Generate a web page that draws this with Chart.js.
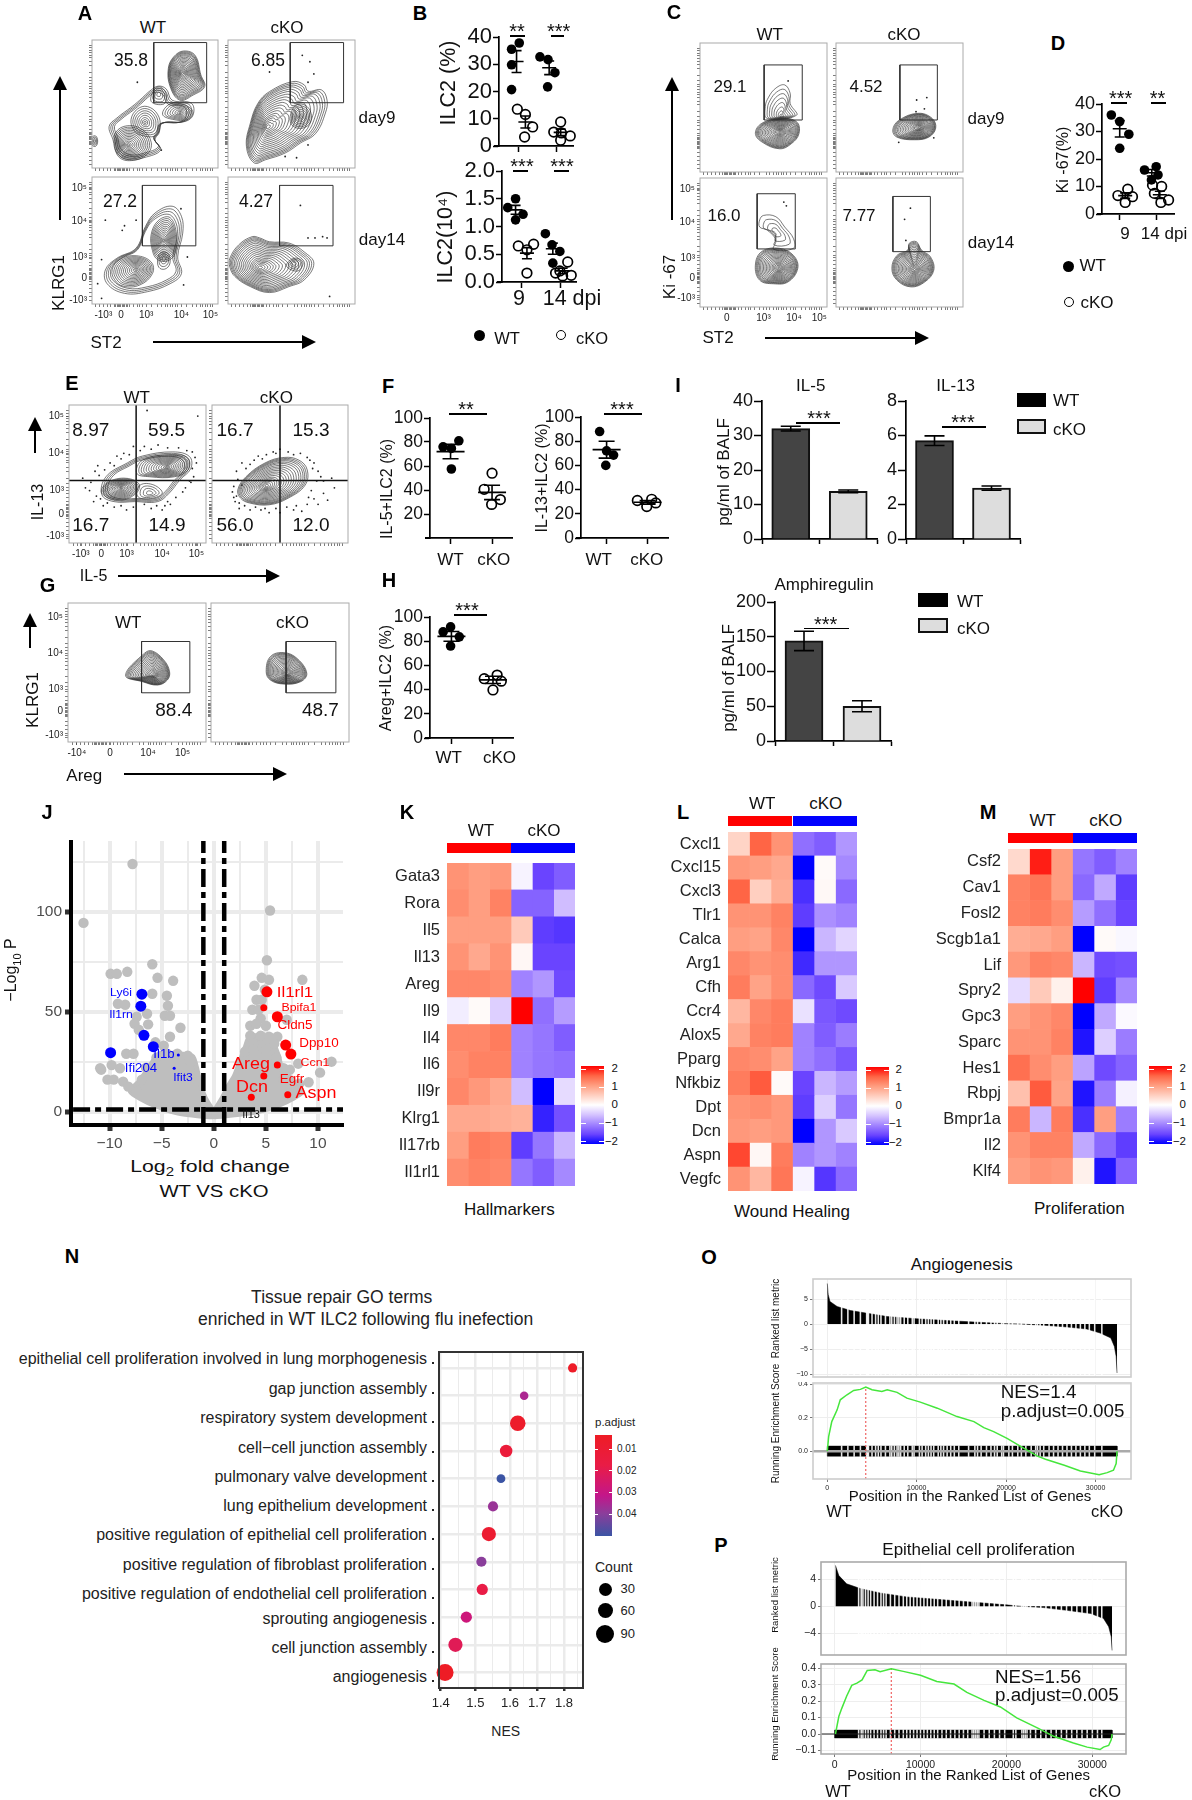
<!DOCTYPE html>
<html>
<head>
<meta charset="utf-8">
<title>ILC2 figure</title>
<script src="https://cdn.jsdelivr.net/npm/chart.js@4/dist/chart.umd.js"></script>
<style>
  html, body { margin: 0; background: #fff; }
  #fig { position: relative; width: 1192px; height: 1800px; overflow: hidden; font-family: "Liberation Sans", Arial, sans-serif; color: #111; }
  #fig canvas { position: absolute; }
  .t { position: absolute; white-space: nowrap; line-height: 1; z-index: 5; }
  .r { position: absolute; z-index: 4; }
</style>
</head>
<body>
<div id="fig"></div>
<script>
// --- Data: flow plots (axis units are percent of the axis) ---
const RINGS_OUTER = [1, .95, .9, .85];
const RINGS_S = [1, .75, .5, .25];
const RINGS_M = [1, .86, .72, .58, .44, .3, .18, .08];
const RINGS_L = [1, .92, .84, .76, .68, .6, .52, .44, .36, .28, .2, .12, .06];
const RINGS_XL = [1, .96, .92, .88, .83, .78, .72, .66, .6, .54, .48, .42, .36, .3, .25, .2, .15, .1, .05];

const FLOW_MINOR = [3, 6, 9, 12, 15, 18, 19, 20, 21, 22, 23, 24, 25, 26, 27, 28, 30, 33, 36, 38, 40, 43, 47, 52, 55, 58, 60, 62, 64, 66, 68, 71, 75, 80, 83, 86, 88, 90, 92, 94, 96];
const LOG_TEXT = ['-10³', '0', '10³', '10⁴', '10⁵'];
const A_X_POS = [9, 23, 43, 71, 94];
const A_Y_POS = [3, 20, 37, 65, 91];
const C_X_POS = [21, 50, 74, 94];
const C_X_TEXT = ['0', '10³', '10⁴', '10⁵'];
const C_Y_POS = [7, 22.6, 38, 66, 91];
const E_X_POS = [8.6, 23.6, 42, 68, 93];
const E_Y_POS = [5, 21, 38, 65, 91.6];
const G_X_POS = [6.4, 30.5, 58, 83];
const G_X_TEXT = ['-10⁴', '0', '10⁴', '10⁵'];
const G_Y_POS = [5, 22, 38, 64, 90];

const A_WT9_BLOBS = [
  [42, 32, RINGS_OUTER, [[13.6, 32.5], [19.7, 39], [31.8, 48], [37.9, 53], [47, 61], [53, 64], [59, 61.6], [63.6, 53], [78.8, 50.6], [80.3, 41.6], [74, 36.4], [56, 35], [53, 27], [50, 22], [54.5, 14], [41, 8], [29, 6.5], [19.7, 11.7], [16.7, 22]]],
  [29, 18, RINGS_L, [[18, 18], [22, 8], [33, 6], [44, 11], [47, 20], [40, 30], [28, 33], [19, 28]]],
  [42, 35.6, RINGS_M, [[33, 30], [38, 26], [50, 25], [54, 32], [52, 42], [44, 48], [36, 46], [31, 38]]],
  [70, 43, RINGS_M, [[56, 42], [64, 38], [76, 38], [80, 44], [74, 49], [62, 50]]],
  [53, 58, RINGS_S, [[47, 52], [50, 62], [55, 63], [59, 57], [57, 50]]],
  [71.8, 74, RINGS_XL, [[60.6, 78], [65, 87], [72.7, 91.4], [81.8, 88], [86.4, 72.7], [89.4, 63.6], [80.3, 57], [69.7, 53], [62, 63.6]]],
  [2, 21, RINGS_S, [[0, 24], [3, 25], [4.5, 21], [3, 17], [0, 18]]]
];
const A_WT9_GATE = [49, 91, 51, 98];
const A_WT9_DOTS = [[36, 67], [55, 14]];

const A_KO9_BLOBS = [
  [31, 32, RINGS_XL, [[20.6, 4], [14.5, 17], [17.6, 35], [23.6, 50.6], [32.7, 59.7], [51, 67.5], [60, 65], [63, 60], [73.6, 61], [78, 53], [76.7, 43], [69, 27], [57, 19.5], [45, 11.7], [29.7, 6.5]]],
  [57, 40, RINGS_M, [[50, 34], [58, 31], [65, 36], [64, 46], [56, 50], [50, 44]]]
];
const A_KO9_GATE = [49, 91, 51, 98];
const A_KO9_DOTS = [[58.5, 88], [64.5, 83], [32.7, 75], [67.6, 73.5], [63, 67], [45, 9], [63, 18], [54, 8]];

const A_WT14_BLOBS = [
  [42, 35, RINGS_OUTER, [[10.6, 26.8], [19.7, 36], [35, 44], [42.4, 61], [50, 71.6], [63.6, 77], [71, 69], [72, 55.8], [68, 37], [71, 24], [62, 16], [44, 9.7], [25.8, 8.4], [12, 16]]],
  [35, 27, RINGS_L, [[16, 27], [22, 35], [35, 38], [47, 33], [48, 24], [38, 15], [25, 14], [18, 19]]],
  [57, 50, RINGS_L, [[48, 42], [47, 55], [53, 66], [62, 68], [67, 55], [66, 40], [60, 34], [52, 35]]],
  [57, 36, RINGS_S, [[52, 33], [54, 40], [60, 40], [62, 33], [59, 28], [54, 28]]]
];
const A_WT14_GATE = [40, 82.4, 45.8, 93.4];
const A_WT14_DOTS = [[10.6, 66], [25.8, 61.6], [24, 58], [35, 66], [70.6, 75], [72.7, 15], [7.6, 4.5], [4.5, 16], [7.6, 35], [75.7, 37]];

const A_KO14_BLOBS = [
  [25, 28.7, RINGS_XL, [[1.5, 36], [8.5, 46.6], [19, 53], [25, 52], [32.7, 49], [48, 48], [60, 41], [67.6, 32], [60, 19], [48, 13.7], [32.7, 9], [17.6, 13.7], [5.5, 21.6], [1.5, 29]]],
  [52, 32, RINGS_S, [[46, 30], [52, 36], [59, 33], [55, 26]]]
];
const A_KO14_GATE = [40.6, 82.7, 45.8, 93.4];
const A_KO14_DOTS = [[57, 77.6], [63, 52], [68.5, 52], [74.5, 53], [78, 52], [80, 6]];

const C_WT9_BLOBS = [
  [63.9, 43, RINGS_M, [[51.4, 50.6], [54, 58], [59.7, 65], [66.7, 67.5], [71, 61], [71, 53], [76, 44], [53, 41.5]]],
  [63.3, 31, RINGS_XL, [[43.6, 30], [48.6, 37.7], [63.3, 41.5], [76, 39], [78, 30], [72, 22], [62.5, 18], [48.6, 23.4]]]
];
const C_WT9_GATE = [50.5, 80.5, 40.3, 83];
const C_WT9_DOTS = [[69.4, 70.6]];

const C_KO9_BLOBS = [
  [66, 34.5, RINGS_XL, [[44.7, 32.5], [49.4, 40], [64.6, 45.5], [75.7, 41.6], [78.5, 34], [73, 27], [61.9, 25], [48, 27]]]
];
const C_KO9_GATE = [50.3, 79.8, 40.3, 83];
const C_KO9_DOTS = [[63.5, 55.8], [71.5, 57.7], [69.6, 49], [63, 46.8], [49.4, 23], [77, 26.5]];

const C_WT14_BLOBS = [
  [60, 58, RINGS_S, [[47, 67.5], [50, 71], [59.7, 70], [66.7, 62], [73.6, 53], [73.6, 45.5], [58, 44.7], [59.7, 52], [52.8, 59.7], [47, 62]]],
  [62.5, 30, RINGS_XL, [[43.6, 32.5], [48.6, 43], [62.5, 45.5], [73.6, 40], [77, 30], [69.4, 19.5], [58, 18], [47, 20.8]]]
];
const C_WT14_GATE = [45, 75, 45, 87.8];
const C_WT14_DOTS = [[66, 81.3], [68, 78.4]];

const C_KO14_BLOBS = [
  [62, 29, RINGS_XL, [[44, 30], [48, 40], [56.4, 44], [57.7, 49.4], [63.3, 50.6], [67.4, 44], [74.3, 39], [77, 28.6], [70, 19.5], [59, 15.6], [48, 20.8]]]
];
const C_KO14_GATE = [44.8, 74.3, 42.9, 85.7];
const C_KO14_DOTS = [[58.6, 76.6], [54, 68], [55, 51.6]];

const E_WT_BLOBS = [
  [55, 45, RINGS_OUTER, [[24, 35], [27, 48], [42.5, 58], [53.6, 63], [75.8, 66], [88, 62.6], [88.9, 54], [81, 45.8], [73, 36], [64.7, 30], [48, 30], [32.8, 30]]],
  [38, 40, RINGS_L, [[24, 36], [27, 43], [40, 47], [51, 43], [49, 36], [37, 31]]],
  [71.7, 55, RINGS_L, [[49.4, 50.6], [53.6, 60], [75.8, 64], [86.9, 61.4], [86.9, 53], [77, 48], [59, 48]]],
  [59, 36, RINGS_S, [[50, 34], [58, 32], [68, 36], [62, 42], [52, 42]]]
];
const E_WT_CROSS = [49, 45.3];
const E_WT_DOTS = [[10, 47], [15, 38], [19, 52], [21, 56], [23, 32], [18, 30], [25, 27], [30, 58], [35, 63], [40, 65], [47, 70], [55, 70], [65, 71], [80, 69], [90, 66], [93, 58], [91, 48], [85, 40], [78, 33], [70, 27], [68, 24], [60, 25], [42, 24], [33, 26], [94, 92], [57, 96], [12, 40], [16, 44], [89, 44], [72, 30], [22, 49], [26, 53], [33, 56], [38, 61], [44, 64], [52, 67], [60, 68], [72, 69], [86, 67], [92, 62], [90, 54], [88, 45], [83, 37], [74, 28], [64, 27], [55, 28], [47, 26], [38, 27], [28, 29], [20, 34]];
const E_KO_BLOBS = [
  [40, 41.5, RINGS_XL, [[19, 38.6], [25, 48], [39, 58], [53, 62], [64, 60], [70, 53], [68.5, 42], [56, 32.5], [42, 27.7], [27.6, 29], [21, 32.5]]]
];
const E_KO_CROSS = [50, 45.3];
const E_KO_DOTS = [[15, 37], [17, 30], [20, 25], [22, 42], [18, 52], [22, 58], [28, 57], [34, 63], [40, 64], [45, 66], [50, 68], [60, 64], [70, 62], [75, 58], [78, 52], [80, 48], [82, 45], [88, 47], [90, 40], [82, 36], [75, 32], [70, 28], [78, 28], [60, 24], [50, 22], [42, 22], [36, 24], [28, 24], [24, 27], [18, 34], [85, 31], [66, 23], [16, 41], [19, 46], [25, 54], [31, 60], [37, 61], [47, 65], [56, 66], [65, 65], [72, 60], [74, 54], [77, 45], [73, 38], [71, 33], [62, 27], [55, 26], [47, 25], [39, 25], [32, 26], [20, 29], [16, 33]];

const G_WT_BLOBS = [
  [62, 48, RINGS_XL, [[41.7, 48], [55.5, 63.9], [61, 65.5], [69.4, 59], [73.6, 50.6], [72, 44.6], [65, 41], [54, 43.4]]]
];
const G_WT_GATE = [53.3, 88.3, 35.4, 72.3];
const G_KO_BLOBS = [
  [55.5, 49.4, RINGS_XL, [[40, 50.6], [43, 61.4], [52.8, 64.3], [62.5, 60], [69.4, 49.4], [65, 43.4], [52.8, 41.7], [43, 44.6]]]
];
const G_KO_GATE = [54.4, 90.5, 35.4, 72.3];

// --- Data: dot panels, [x, value], error lists are [x, mean, sem] ---
const B1_WT = [[1.02, 37.8], [.82, 35.5], [.82, 29.8], [.82, 20.7], [1.56, 32.7], [1.77, 31.7], [1.95, 26.9], [1.76, 21.7]];
const B1_KO = [[.97, 13.5], [1.18, 11.6], [1.37, 7], [1.16, 3.3], [2.1, 8.8], [1.92, 5.1], [2.35, 3.7], [2.1, 2.1], [2.12, 4.8]];
const B1_ERR = [[.95, 31, 4], [1.18, 8.8, 2.2], [1.8, 28.7, 2.5], [2.1, 5, 1.2]];
const B2_WT = [[.65, 1.34], [.85, 1.5], [1.04, 1.22], [.85, 1.12], [1.61, .87], [1.78, .67], [1.98, .55], [1.8, .34]];
const B2_KO = [[.92, .65], [1.31, .68], [1.14, .58], [1.14, .16], [2.18, .36], [1.87, .16], [2.27, .12], [2.05, .11], [1.98, .2]];
const B2_ERR = [[.85, 1.3, .08], [1.14, .52, .1], [1.8, .6, .1], [2.05, .2, .05]];
const D_WT = [[.77, 36], [1.0, 33.6], [1.25, 29], [1.0, 23.9], [1.68, 16], [2.0, 17.2], [2.05, 14.2], [1.87, 12.4]];
const D_KO = [[.95, 6.7], [1.22, 9], [1.35, 6.3], [1.15, 4.2], [1.9, 10.5], [2.15, 10], [1.95, 7.5], [2.34, 5.1], [2.13, 4.2]];
const D_ERR = [[1.0, 31, 3], [1.15, 6.7, 1], [1.88, 15, 1.2], [2.1, 7, 1.3]];
const F1_WT = [[.82, 76], [1.2, 81], [1.02, 74.6], [1.02, 57.5]];
const F1_KO = [[2.0, 54], [1.81, 40.6], [2.2, 32], [1.99, 28]];
const F1_ERR = [[1, 72, 6], [2, 38, 6]];
const F2_WT = [[.83, 88], [1.0, 72], [1.17, 68.5], [.98, 60]];
const F2_KO = [[1.75, 31], [2.1, 32], [2.2, 29], [1.98, 26]];
const F2_ERR = [[1, 73, 7], [2, 29.5, 1.5]];
const H_WT = [[.98, 91.8], [.8, 87.7], [1.19, 83.6], [.98, 76]];
const H_KO = [[1.79, 49], [2.1, 52], [2.2, 47], [2.0, 39.7]];
const H_ERR = [[1, 84, 4], [2, 48, 3]];

// --- Data: cytokine bars ---
const GROUPS = ['WT', 'cKO'];
const IL5_VALUES = [32, 13.8];
const IL5_ERRORS = [.7, .4];
const IL13_VALUES = [5.7, 2.95];
const IL13_ERRORS = [.28, .12];
const AREG_VALUES = [144, 50];
const AREG_ERRORS = [14, 8];

// --- Data: volcano ---
const V_GRAY = [[-7.8, 124], [-12.5, 94.5], [5.4, 100.7], [5.1, 75.8], [-5.9, 73.8], [-9.9, 69], [-9.3, 69], [-8.3, 70], [-5.4, 67], [-3.9, 65.5], [-5.9, 59], [-4.5, 58], [-9.2, 54], [-8.5, 53.5], [-4.4, 53], [-6.4, 49], [-4.7, 48], [-4.2, 48], [-7.4, 47.5], [-6.3, 43.7], [-7.6, 44], [-7.2, 41], [-3.2, 42], [-4.2, 37.5], [-5.6, 34.7], [-4.8, 33], [-8.4, 29], [-7.7, 29], [-10.9, 21.7], [-10.8, 21], [-9.8, 23.3], [-9, 21.7], [-10.2, 16], [-9.6, 16], [-8.7, 15], [-8.2, 12.5], [-7.4, 10],
  [8.5, 66], [4.6, 67], [5.3, 66], [3.9, 63], [4.9, 61], [4.1, 56], [4.6, 56], [3.7, 51], [4.3, 51], [4.5, 46.7], [3.5, 43], [4.1, 44], [5, 43], [7, 46], [3.5, 38], [4.5, 38], [5.3, 37.5], [6.1, 37.5], [3.8, 34], [5.8, 34], [8.1, 24], [11.3, 25], [10.2, 19.5], [9.1, 14.7], [7.3, 21], [6.7, 21.7], [8.2, 14],
  [-5.5, 27], [-4.5, 29], [-3.5, 29], [-2.5, 28], [-2.2, 25], [-6.5, 22], [-6.9, 16], [3, 30], [3.8, 31], [5, 31], [6, 27], [2.6, 25], [6.7, 16], [7.6, 12]];
const V_MASS_LEFT = [[0, 0], [-.8, 6.7], [-1.3, 14], [-2, 27.5], [-3.5, 29], [-5.2, 29], [-6, 24], [-7, 16], [-8, 10], [-5.8, 3.3], [-3.2, -1], [0, -2.5], [0, 0]];
const V_MASS_RIGHT = [[0, 0], [.8, 6.7], [1.3, 12], [2, 18], [2.5, 25], [3, 32], [3.5, 38], [5.5, 36], [6.2, 28], [6.5, 22], [7.5, 16], [8.5, 10], [7, 5], [5, 1], [3, -1], [0, -2.5], [0, 0]];
const V_BLUE = [[-6.9, 58.8], [-7, 52.8], [-6.7, 38.2], [-5.8, 32.5], [-9.9, 29.5]];
const V_BLUE_SMALL = [[-3.4, 28.3], [-3.8, 21.7]];
const V_RED = [[5.1, 60], [6.1, 47.5], [6.9, 33.3], [7.4, 28.8]];
const V_RED_SMALL = [[4.8, 52], [6.1, 23.3], [4.8, 17.8], [7.1, 8.5], [3.6, 7.2]];
const V_X_TICKS = [-12.5, -10, -7.5, -5, -2.5, 0, 2.5, 5, 7.5, 10];
const V_Y_TICKS = [0, 25, 50, 75, 100, 125];

// --- Data: heatmaps, columns WT WT WT cKO cKO cKO ---
const K_GENES = ['Gata3', 'Rora', 'Il5', 'Il13', 'Areg', 'Il9', 'Il4', 'Il6', 'Il9r', 'Klrg1', 'Il17rb', 'Il1rl1'];
const K_VALUES = [
  [1.1, 1.0, 1.05, -.1, -1.5, -1.3], [1.15, 1.0, 1.25, -1.25, -1.25, -.55], [1.0, 1.0, 1.0, .55, -1.55, -1.6],
  [1.1, .9, 1.1, .08, -1.5, -1.5], [1.2, 1.2, 1.15, -1.0, -.85, -1.45], [-.15, .05, -.4, 2, -1.15, -.8],
  [1.2, 1.2, 1.3, -1.0, -1.1, -1.3], [1.15, 1.25, 1.25, -1, -1.1, -1.15], [1.2, 1.05, .9, -.55, -2, -.3],
  [.9, .9, .85, .8, -1.75, -1.4], [1.0, 1.3, 1.25, -1.55, -1.1, -.6], [1.15, 1.25, 1.2, -1.1, -1.3, -.95]];
const L_GENES = ['Cxcl1', 'Cxcl15', 'Cxcl3', 'Tlr1', 'Calca', 'Arg1', 'Cfh', 'Ccr4', 'Alox5', 'Pparg', 'Nfkbiz', 'Dpt', 'Dcn', 'Aspn', 'Vegfc'];
const L_VALUES = [
  [.45, 1.5, 1.1, -1.15, -1.3, -.85], [1.05, 1.0, .9, -2, .05, -.95], [1.5, .5, .85, -1.65, .07, -1.2],
  [1.1, 1.1, 1.25, -1.55, -.9, -1.0], [1.0, .95, 1.2, -2, -.6, -.35], [1.2, 1.1, 1.15, -1.7, -.85, -.85],
  [1.3, .95, 1.15, -1.2, -1.45, -.45], [.75, 1.2, 1.3, -.25, -1.35, -1.45], [.9, 1.25, 1.3, -1, -1.3, -1.05],
  [1.2, 1.15, .95, -1, -1.15, -1.35], [1.3, 1.55, .05, -1.5, -.6, -.8], [1.1, 1.15, 1.05, -1.55, -.4, -1.1],
  [1.05, 1.0, 1.05, -2, -.85, -.45], [1.65, .08, 1.3, -1, -.85, -1], [1.1, .75, 1.35, -.1, -1.6, -1.2]];
const M_GENES = ['Csf2', 'Cav1', 'Fosl2', 'Scgb1a1', 'Lif', 'Spry2', 'Gpc3', 'Sparc', 'Hes1', 'Rbpj', 'Bmpr1a', 'Il2', 'Klf4'];
const M_VALUES = [
  [.4, 1.85, 1.0, -1.1, -1.3, -1.0], [1.25, 1.35, 1.0, -1.2, -.7, -1.55], [1.25, 1.3, 1.15, -.8, -1.15, -1.5],
  [.85, .9, 1.0, -2, .05, -.07], [1.05, 1.25, 1.2, -.6, -1.45, -1.4], [-.3, .55, .15, 2, -1.55, -.95],
  [1.0, 1.1, 1.2, -2, -.7, -.05], [1.1, 1.1, 1.25, -1.85, -.4, -1.05], [1.4, 1.15, 1.0, -.75, -1.45, -1.25],
  [.65, 1.55, .95, -1.85, -1.05, -.12], [1.3, -.6, 1.3, -1.65, 1.0, -1.05], [1.1, 1.25, 1.25, -.7, -1.2, -1.55],
  [1.0, 1.1, 1.05, .15, -1.85, -1.25]];
const HEAT_STOPS = [[-2, [0, 0, 255]], [-1.5, [106, 68, 255]], [-1, [160, 130, 255]], [-.5, [213, 195, 255]], [0, [255, 255, 255]], [.5, [255, 207, 192]], [1, [255, 158, 129]], [1.5, [255, 101, 69]], [2, [255, 0, 0]]];

// --- Data: GO dot plot ---
const GO_TERMS = ['epithelial cell proliferation involved in lung morphogenesis', 'gap junction assembly', 'respiratory system development', 'cell−cell junction assembly', 'pulmonary valve development', 'lung epithelium development', 'positive regulation of epithelial cell proliferation', 'positive regulation of fibroblast proliferation', 'positive regulation of endothelial cell proliferation', 'sprouting angiogenesis', 'cell junction assembly', 'angiogenesis'];
const GO_NES = [1.781, 1.641, 1.6225, 1.589, 1.574, 1.551, 1.539, 1.5175, 1.52, 1.474, 1.4425, 1.4125];
const GO_COUNT = [22, 15, 85, 55, 18, 32, 72, 32, 42, 42, 72, 100];
const GO_PADJ = [.005, .033, .006, .011, .05, .037, .008, .04, .015, .025, .018, .004];
const PADJ_STOPS = [[.004, [238, 28, 37]], [.015, [233, 28, 70]], [.028, [196, 22, 138]], [.04, [138, 62, 155]], [.05, [59, 84, 164]]];
const NES_TICKS = [1.4, 1.5, 1.6, 1.678, 1.756];
const NES_LABELS = ['1.4', '1.5', '1.6', '1.7', '1.8'];
const NES_MINOR = [1.45, 1.55, 1.64, 1.717, 1.795];

// --- Data: GSEA ---
const O_RANK_X = [0, 100, 300, 1100, 2600, 4300, 6700, 10000, 13800, 17500, 20000, 21600, 24200, 26800, 29000, 30500, 31700, 32100, 32300, 32400];
const O_RANK_Y = [8.1, 5.9, 4.5, 3.5, 2.7, 2.2, 1.5, 1.05, .65, .3, .07, 0, -.25, -.6, -1, -1.8, -2.8, -4.5, -6.5, -9.8];
const O_ES_X = [0, 150, 500, 1100, 1450, 2200, 2950, 3700, 4300, 5000, 6100, 6700, 7800, 8900, 10400, 12300, 14500, 16400, 17500, 18600, 20100, 22000, 23500, 24400, 26500, 28300, 30400, 31300, 32000, 32300, 32400];
const O_ES_Y = [0, .086, .176, .246, .306, .336, .362, .368, .382, .366, .356, .366, .35, .316, .292, .256, .206, .176, .14, .116, .076, .016, -.03, -.048, -.084, -.118, -.14, -.128, -.114, -.074, 0];
const O_GAPS = [1600, 2300, 3000, 3700, 4400, 4500, 4600, 5000, 5400, 5700, 6000, 6500, 7000, 7200, 7500, 7800, 8000, 8200, 8600, 9000, 9500, 9700, 10300, 10600, 11000, 11300, 11600, 11900, 12400, 12700, 13000, 13400, 13800, 14200, 14700, 15800, 16500, 16800, 17200, 17800, 18300, 18700, 19000, 19500, 19700, 20300, 20700, 21300, 21700, 22200, 22800, 23300, 23500, 23800, 24200, 24800, 25300, 25800, 26300, 26800, 27300, 27800, 28300, 28800, 29300, 29900, 30700];
const P_RANK_X = [100, 500, 1400, 3000, 5300, 8400, 11900, 15800, 20000, 21600, 24300, 27000, 29800, 31300, 31900, 32200, 32300];
const P_RANK_Y = [6, 4.5, 3.3, 2.6, 1.95, 1.37, 1.02, .63, .2, 0, -.2, -.6, -1.07, -1.8, -3, -4.5, -6.5];
const P_ES_X = [100, 500, 850, 1400, 2000, 2600, 3200, 3800, 4700, 5300, 6600, 8000, 10000, 11900, 13900, 15400, 17400, 19300, 21200, 23600, 25500, 27800, 29400, 30900, 31300, 31900, 32200, 32300];
const P_ES_Y = [0, .108, .158, .23, .297, .31, .33, .388, .392, .38, .398, .382, .358, .32, .305, .254, .205, .165, .098, .037, -.014, -.055, -.08, -.095, -.08, -.07, -.035, 0];
const P_GAPS = [2800, 3100, 3300, 3600, 3900, 4200, 4600, 5000, 5400, 5700, 6000, 6500, 7000, 7500, 8000, 8400, 8800, 9200, 9600, 10000, 10400, 10800, 11200, 11600, 12000, 12500, 13000, 13500, 14000, 14500, 15000, 15500, 16000, 16200, 16400, 16600, 16800, 17400, 18000, 18600, 19200, 19800, 20800, 21100, 21800, 22000, 22200, 22400, 22800, 23400, 24000, 24600, 25200, 25800, 26400, 27000, 27600, 28200, 28800, 29400, 30000, 30600, 31100];

// --- Helpers ---
const fig = document.getElementById('fig');
Chart.defaults.font.family = '"Liberation Sans", Arial, sans-serif';
Chart.defaults.color = '#111';
Chart.defaults.animation = false;

// page text, anchored by its centre unless align says otherwise
function txt(s, x, y, size, o = {}) {
  const d = document.createElement('div');
  d.className = 't';
  d.innerHTML = s;
  const ax = o.align === 'r' ? '-100%' : o.align === 'l' ? '0' : '-50%';
  d.style.cssText = `left:${x}px;top:${y}px;font-size:${size}px;font-weight:${o.weight || 'normal'};color:${o.color || '#111'};transform:translate(${ax},-50%)${o.rot ? ' rotate(-90deg)' : ''}${o.sx ? ` scaleX(${o.sx})` : ''}`;
  fig.appendChild(d);
}
function rect(x, y, w, h, css) {
  const d = document.createElement('div');
  d.className = 'r';
  d.style.cssText = `left:${x}px;top:${y}px;width:${w}px;height:${h}px;${css}`;
  fig.appendChild(d);
  return d;
}
function arrowRight(x1, x2, y) {
  rect(x1, y - 1, x2 - x1 - 12, 2.2, 'background:#000');
  rect(x2 - 14, y - 7, 0, 0, 'border-left:14px solid #000;border-top:7px solid transparent;border-bottom:7px solid transparent');
}
function arrowUp(x, y1, y2) {
  rect(x - 1, y2 + 12, 2.2, y1 - y2 - 12, 'background:#000');
  rect(x - 7, y2, 0, 0, 'border-bottom:14px solid #000;border-left:7px solid transparent;border-right:7px solid transparent');
}
function sig(stars, x1, x2, y, tx) {
  rect(x1, y, x2 - x1, 1.6, 'background:#000');
  txt(stars, tx, y - 4, 20);
}
function dot(x, y, r, open) {
  rect(x - r, y - r, 2 * r, 2 * r, `box-sizing:border-box;border-radius:50%;${open ? 'border:1.6px solid #000;background:#fff' : 'background:#000'}`);
}
function fixed(values) {
  return s => { s.ticks = values.map(value => ({ value })); };
}

// frame round the plot area
Chart.register({
  id: 'frame',
  afterDatasetsDraw(chart, args, opts) {
    if (!opts || !opts.color) return;
    const a = chart.chartArea, c = chart.ctx;
    c.save();
    c.strokeStyle = opts.color;
    c.lineWidth = opts.width || 1;
    c.strokeRect(a.left, a.top, a.right - a.left, a.bottom - a.top);
    c.restore();
  }
});
// contours are closed curves
Chart.register({
  id: 'closedLines',
  afterDatasetsUpdate(chart) {
    chart.data.datasets.forEach((ds, i) => {
      if (!ds.closed) return;
      const line = chart.getDatasetMeta(i).dataset;
      line._loop = true;
      line._fullLoop = true;
    });
  }
});
// mean and sem marks
Chart.register({
  id: 'errorMarks',
  afterDatasetsDraw(chart, args, opts) {
    if (!opts || !opts.items) return;
    const c = chart.ctx, xs = chart.scales.x, ys = chart.scales.y;
    c.save();
    c.strokeStyle = '#000';
    c.lineWidth = opts.width || 1.6;
    opts.items.forEach(([x, m, e]) => {
      const px = xs.getPixelForValue(x), pm = ys.getPixelForValue(m), hi = ys.getPixelForValue(m + e), lo = ys.getPixelForValue(m - e);
      c.beginPath();
      c.moveTo(px, hi); c.lineTo(px, lo);
      c.moveTo(px - opts.cap, hi); c.lineTo(px + opts.cap, hi);
      c.moveTo(px - opts.cap, lo); c.lineTo(px + opts.cap, lo);
      if (opts.mean) { c.moveTo(px - opts.mean, pm); c.lineTo(px + opts.mean, pm); }
      c.stroke();
    });
    c.restore();
  }
});

// a chart whose plot area sits exactly on the given page box
function noPad(s) {
  s.paddingTop = 0; s.paddingBottom = 0; s.paddingLeft = 0; s.paddingRight = 0;
}
function place(plot, m, config) {
  const cv = document.createElement('canvas');
  const left = Math.round(plot.l) - m.l, top = Math.round(plot.t) - m.t;
  cv.width = Math.round(plot.r) - Math.round(plot.l) + m.l + m.r;
  cv.height = Math.round(plot.b) - Math.round(plot.t) + m.t + m.b;
  cv.style.left = left + 'px';
  cv.style.top = top + 'px';
  fig.appendChild(cv);
  const o = config.options;
  o.responsive = false;
  o.devicePixelRatio = 1;
  o.layout = { autoPadding: false, padding: { top: m.t, right: m.r, left: 0, bottom: 0 } };
  o.scales.x.afterFit = s => { s.height = m.b; noPad(s); };
  o.scales.y.afterFit = s => { s.width = m.l; noPad(s); };
  o.plugins = Object.assign({ legend: { display: false }, tooltip: { enabled: false } }, o.plugins);
  return new Chart(cv, config);
}

const CONTOUR = 'rgba(45,45,45,.85)';
function flowPlot(plot, blobs, gate, cross, dots, xPos, xText, yPos, yText) {
  const datasets = [];
  blobs.forEach(([cx, cy, rings, pts]) => {
    rings.forEach(k => {
      const ring = pts.map(([x, y]) => ({ x: cx + (x - cx) * k, y: cy + (y - cy) * k }));
      datasets.push({ data: ring, closed: true, showLine: true, tension: .4, borderColor: CONTOUR, borderWidth: .75, pointRadius: 0 });
    });
  });
  if (gate) {
    const [x0, x1, y0, y1] = gate;
    datasets.push({ data: [{ x: x0, y: y0 }, { x: x1, y: y0 }, { x: x1, y: y1 }, { x: x0, y: y1 }, { x: x0, y: y0 }], showLine: true, borderColor: '#333', borderWidth: 1, pointRadius: 0 });
  }
  if (cross) {
    datasets.push({ data: [{ x: cross[0], y: 0 }, { x: cross[0], y: 100 }], showLine: true, borderColor: '#111', borderWidth: 1.5, pointRadius: 0 });
    datasets.push({ data: [{ x: 0, y: cross[1] }, { x: 100, y: cross[1] }], showLine: true, borderColor: '#111', borderWidth: 1.5, pointRadius: 0 });
  }
  datasets.push({ data: dots.map(([x, y]) => ({ x, y })), pointRadius: .9, pointBackgroundColor: '#222', pointBorderWidth: 0 });
  const axis = (pos, text) => ({
    type: 'linear', min: 0, max: 100,
    afterBuildTicks: fixed(text ? FLOW_MINOR.filter(v => !pos.includes(v)).concat(pos) : FLOW_MINOR),
    grid: { drawOnChartArea: false, tickLength: 3, tickColor: '#444', tickWidth: .7 },
    border: { display: false },
    ticks: {
      autoSkip: false, maxRotation: 0, padding: 2, font: { size: 10 }, color: '#222',
      callback: v => (text && pos.includes(v) ? text[pos.indexOf(v)] : '')
    }
  });
  place(plot, { l: 34, t: 1, r: 1, b: 26 }, {
    type: 'scatter',
    data: { datasets },
    options: { scales: { x: axis(xPos, xText), y: axis(yPos, yText) }, plugins: { frame: { color: '#aaa', width: 1 } } }
  });
}

// dots on two day/group positions, t1 and t2 are the page x of the two ticks
function dotPanel(plot, t1, t2, wt, ko, err, yMax, yTicks, fmt, size, mean, cap) {
  const unit = t2 - t1;
  const pts = a => a.map(([x, y]) => ({ x, y }));
  place(plot, { l: 45, t: 12, r: 8, b: 8 }, {
    type: 'scatter',
    data: {
      datasets: [
        { data: pts(wt), pointRadius: 4.8, pointBackgroundColor: '#000', pointBorderWidth: 0, clip: false },
        { data: pts(ko), pointRadius: 4.8, pointBackgroundColor: 'rgba(255,255,255,0)', pointBorderColor: '#000', pointBorderWidth: 1.7, clip: false }
      ]
    },
    options: {
      scales: {
        x: {
          type: 'linear', min: 1 - (t1 - plot.l) / unit, max: 2 + (plot.r - t2) / unit,
          afterBuildTicks: fixed([1, 2]),
          grid: { drawOnChartArea: false, tickLength: 6, tickColor: '#000', tickWidth: 1.5 },
          border: { color: '#000', width: 1.7 },
          ticks: { callback: () => '', padding: 0 }
        },
        y: {
          type: 'linear', min: 0, max: yMax,
          afterBuildTicks: fixed(yTicks),
          grid: { drawOnChartArea: false, tickLength: 6, tickColor: '#000', tickWidth: 1.5 },
          border: { color: '#000', width: 1.7 },
          ticks: { font: { size }, padding: 1, autoSkip: false, callback: fmt || (v => v) }
        }
      },
      plugins: { errorMarks: { items: err, mean, cap } }
    }
  });
  rect(plot.l - 5, plot.b - 1, 5, 1.8, 'background:#000');
}

function barPanel(plot, values, errors, yMax, yTicks) {
  place(plot, { l: 45, t: 10, r: 4, b: 8 }, {
    type: 'bar',
    data: {
      labels: GROUPS,
      datasets: [{ data: values, backgroundColor: ['#444', '#ddd'], borderColor: '#111', borderWidth: 2, barThickness: 38 }]
    },
    options: {
      scales: {
        x: {
          grid: { drawOnChartArea: false, tickLength: 5, tickColor: '#000', tickWidth: 1.5 },
          border: { color: '#000', width: 1.7 },
          ticks: { callback: () => '', padding: 0 }
        },
        y: {
          min: 0, max: yMax,
          afterBuildTicks: fixed(yTicks),
          grid: { drawOnChartArea: false, tickLength: 8, tickColor: '#000', tickWidth: 1.5 },
          border: { color: '#000', width: 1.7 },
          ticks: { font: { size: 18 }, padding: 1, autoSkip: false }
        }
      },
      plugins: { errorMarks: { items: values.map((v, i) => [i, v, errors[i]]), cap: 10, width: 1.6 } }
    }
  });
}

function ramp(stops, v) {
  for (let i = 1; i < stops.length; i++) {
    if (v <= stops[i][0]) {
      const [a, ca] = stops[i - 1], [b, cb] = stops[i];
      const f = Math.max(0, (v - a) / (b - a));
      return `rgb(${ca.map((c, j) => Math.round(c + (cb[j] - c) * f)).join(',')})`;
    }
  }
  return `rgb(${stops[stops.length - 1][1].join(',')})`;
}

function heatmap(plot, genes, values, annTop, annBottom) {
  const datasets = [0, 1, 2, 3, 4, 5].map(col => ({
    data: genes.map(() => 1),
    backgroundColor: values.map(row => ramp(HEAT_STOPS, row[col])),
    borderWidth: 0, barPercentage: 1, categoryPercentage: 1
  }));
  place(plot, { l: 90, t: 1, r: 1, b: 1 }, {
    type: 'bar',
    data: { labels: genes, datasets },
    options: {
      indexAxis: 'y',
      scales: {
        x: { stacked: true, min: 0, max: 6, grid: { display: false }, border: { display: false }, ticks: { display: false } },
        y: { stacked: true, grid: { display: false, drawTicks: false }, border: { display: false }, ticks: { font: { size: 16.5 }, color: '#222', padding: 7, autoSkip: false } }
      }
    }
  });
  const w = (plot.r - plot.l) / 2;
  rect(plot.l, annTop, w, annBottom - annTop, 'background:#f00');
  rect(plot.l + w, annTop, w, annBottom - annTop, 'background:#00f');
}

function colorBar(x, y, w, h, labelX) {
  const cols = HEAT_STOPS.slice().reverse().map(s => `rgb(${s[1].join(',')})`).join(',');
  rect(x, y, w, h, `background:linear-gradient(${cols})`);
  [['2', 3.3], ['1', 21.3], ['0', 39.3], ['−1', 57.3], ['−2', 75.7]].forEach(([s, dy], i) => {
    txt(s, labelX, y + dy, 11.5, { align: 'r' });
    if (i !== 2) {
      rect(x, y + dy - .5, 5, 1, 'background:#fff');
      rect(x + w - 5, y + dy - .5, 5, 1, 'background:#fff');
    }
  });
}

function gsea(top, bottom, rankX, rankY, esX, esY, gaps, peak, cfg) {
  const xr = { min: cfg.xMin, max: cfg.xMax, offset: false };
  const pairs = (xs, ys) => xs.map((x, i) => ({ x, y: ys[i] }));
  const grid = { color: '#eee', lineWidth: 1, tickLength: 3, tickColor: '#777', offset: false };
  place(top, { l: 45, t: 1, r: 2, b: 1 }, {
    type: 'bar',
    data: {
      datasets: [
        { type: 'bar', order: 1, data: gaps.map(x => ({ x, y: [cfg.rankMin, cfg.rankMax] })), backgroundColor: 'rgba(255,255,255,.9)', barThickness: .9 },
        { type: 'line', order: 2, data: pairs(rankX, rankY), borderColor: '#000', borderWidth: .5, backgroundColor: '#000', fill: 'origin', pointRadius: 0, tension: 0 }
      ]
    },
    options: {
      scales: {
        x: { type: 'linear', ...xr, afterBuildTicks: fixed(cfg.xTicks), grid: { color: '#eee', drawTicks: false, offset: false }, border: { display: false }, ticks: { display: false } },
        y: { type: 'linear', min: cfg.rankMin, max: cfg.rankMax, afterBuildTicks: fixed(cfg.rankTicks), grid, border: { display: false }, ticks: { font: { size: cfg.tick }, color: '#222', padding: 2, autoSkip: false, callback: v => String(v).replace('-', '−') } }
      },
      plugins: { frame: { color: cfg.frame, width: 1.6 } }
    }
  });
  place(bottom, { l: 45, t: 1, r: 2, b: 18 }, {
    type: 'bar',
    data: {
      datasets: [
        { type: 'line', order: 1, data: pairs(esX, esY), borderColor: '#45e63c', borderWidth: 1.5, pointRadius: 0, tension: 0 },
        { type: 'line', order: 1, data: [{ x: peak, y: cfg.esMin }, { x: peak, y: cfg.esPeak }], borderColor: '#ee5555', borderWidth: 1.1, borderDash: [2, 2], pointRadius: 0 },
        { type: 'line', order: 2, data: [{ x: cfg.xMin, y: 0 }, { x: cfg.xMax, y: 0 }], borderColor: cfg.zero, borderWidth: cfg.zeroWidth, pointRadius: 0 },
        { type: 'bar', order: 3, data: gaps.map(x => ({ x, y: [-cfg.rug - .002, cfg.rug + .002] })), backgroundColor: 'rgba(255,255,255,.9)', barThickness: .9 },
        { type: 'line', order: 4, data: [{ x: 0, y: cfg.rug }, { x: cfg.rugEnd, y: cfg.rug }, { x: cfg.rugEnd, y: -cfg.rug }, { x: 0, y: -cfg.rug }, { x: 0, y: cfg.rug }], backgroundColor: '#000', borderColor: '#000', borderWidth: .5, fill: 'shape', pointRadius: 0 }
      ]
    },
    options: {
      scales: {
        x: { type: 'linear', ...xr, afterBuildTicks: fixed(cfg.xTicks), grid, border: { display: false }, ticks: { font: { size: cfg.tick }, color: '#222', padding: 2, autoSkip: false, maxRotation: 0, callback: v => String(v) } },
        y: { type: 'linear', min: cfg.esMin, max: cfg.esMax, afterBuildTicks: fixed(cfg.esTicks), grid, border: { display: false }, ticks: { font: { size: cfg.tick }, color: '#222', padding: 2, autoSkip: false, callback: v => v.toFixed(1).replace('-', '−') } }
      },
      plugins: { frame: { color: cfg.frame, width: 1.6 } }
    }
  });
}

// --- Panel letters ---
[['A', 85, 13], ['B', 420, 13], ['C', 674, 12], ['D', 1058, 43], ['E', 72, 383], ['F', 388, 386], ['G', 47.5, 585], ['H', 389, 580], ['I', 678, 385], ['J', 47, 812], ['K', 407, 812], ['L', 683, 812], ['M', 988, 812], ['N', 72, 1256], ['O', 709, 1257], ['P', 721, 1545]]
  .forEach(([s, x, y]) => txt(s, x, y, 20, { weight: 'bold', color: '#000' }));

// --- A ---
flowPlot({ l: 91.7, r: 218, t: 40, b: 168.3 }, A_WT9_BLOBS, A_WT9_GATE, null, A_WT9_DOTS, [], null, [], null);
flowPlot({ l: 228, r: 354.6, t: 40, b: 168.3 }, A_KO9_BLOBS, A_KO9_GATE, null, A_KO9_DOTS, [], null, [], null);
flowPlot({ l: 91.7, r: 218, t: 177.3, b: 304 }, A_WT14_BLOBS, A_WT14_GATE, null, A_WT14_DOTS, A_X_POS, LOG_TEXT, A_Y_POS, LOG_TEXT);
flowPlot({ l: 228, r: 354.6, t: 177.3, b: 304 }, A_KO14_BLOBS, A_KO14_GATE, null, A_KO14_DOTS, [], null, [], null);
txt('WT', 153, 27, 17); txt('cKO', 287, 27, 17);
txt('35.8', 131, 61, 17.5); txt('6.85', 268, 61, 17.5); txt('27.2', 120, 202, 17.5); txt('4.27', 256, 202, 17.5);
txt('day9', 377, 117, 17); txt('day14', 382, 239, 17);
txt('KLRG1', 58, 283, 17, { rot: 1 }); txt('ST2', 106, 342, 17);
arrowRight(153, 316, 342); arrowUp(60, 220, 76);

// --- B ---
dotPanel({ l: 499, r: 572.7, t: 36.7, b: 145.7 }, 518.4, 556.6, B1_WT, B1_KO, B1_ERR, 40, [0, 10, 20, 30, 40], null, 22, 7, 5);
dotPanel({ l: 502, r: 575.8, t: 170.7, b: 282.3 }, 521.4, 560.5, B2_WT, B2_KO, B2_ERR, 2, [0, .5, 1, 1.5, 2], v => v.toFixed(1), 22, 7, 5);
txt('ILC2 (%)', 449, 83, 21.5, { rot: 1 }); txt('ILC2(10⁴)', 446, 237, 21.5, { rot: 1 });
txt('9', 519, 299, 21.5); txt('14 dpi', 572, 299, 21.5);
sig('**', 510, 525, 35, 517); sig('***', 551, 563.5, 35, 558.6);
sig('***', 512.6, 528, 170, 522); sig('***', 554, 569, 170, 562);
dot(479, 335, 5.5); txt('WT', 507, 338, 16.5); dot(561, 335, 5, true); txt('cKO', 592, 338, 16.5);

// --- C ---
flowPlot({ l: 700, r: 826.6, t: 43.3, b: 171.7 }, C_WT9_BLOBS, C_WT9_GATE, null, C_WT9_DOTS, [], null, [], null);
flowPlot({ l: 835.8, r: 963, t: 43.3, b: 171.7 }, C_KO9_BLOBS, C_KO9_GATE, null, C_KO9_DOTS, [], null, [], null);
flowPlot({ l: 700, r: 826.6, t: 178.3, b: 306.7 }, C_WT14_BLOBS, C_WT14_GATE, null, C_WT14_DOTS, C_X_POS, C_X_TEXT, C_Y_POS, LOG_TEXT);
flowPlot({ l: 835.8, r: 963, t: 178.3, b: 306.7 }, C_KO14_BLOBS, C_KO14_GATE, null, C_KO14_DOTS, [], null, [], null);
txt('WT', 769.6, 34, 17); txt('cKO', 904, 34, 17);
txt('29.1', 730, 86, 17); txt('4.52', 866, 86, 17); txt('16.0', 724, 215, 17); txt('7.77', 859, 215, 17);
txt('day9', 986, 118, 17); txt('day14', 991, 242, 17);
txt('Ki -67', 669, 277, 17, { rot: 1 }); txt('ST2', 718, 337, 17);
arrowRight(765, 929, 338); arrowUp(672, 220, 77);

// --- D ---
dotPanel({ l: 1102, r: 1173.5, t: 104, b: 214 }, 1119.6, 1155.8, D_WT, D_KO, D_ERR, 40, [0, 10, 20, 30, 40], null, 18, 7, 5);
txt('Ki -67(%)', 1062.5, 160, 16, { rot: 1 });
txt('9', 1125, 233, 17); txt('14 dpi', 1164, 233, 17);
sig('***', 1111, 1126.6, 102, 1120.6); sig('**', 1151, 1166, 102, 1157.6);
dot(1068.5, 266, 5.5); txt('WT', 1092.6, 265, 17); dot(1068.5, 302, 5, true); txt('cKO', 1097, 302, 17);

// --- E ---
flowPlot({ l: 68.6, r: 206.4, t: 405, b: 543.3 }, E_WT_BLOBS, null, E_WT_CROSS, E_WT_DOTS, E_X_POS, LOG_TEXT, E_Y_POS, LOG_TEXT);
flowPlot({ l: 212, r: 348, t: 405, b: 543.3 }, E_KO_BLOBS, null, E_KO_CROSS, E_KO_DOTS, [], null, [], null);
txt('WT', 136.7, 396.7, 17); txt('cKO', 276.4, 396.7, 17);
txt('8.97', 90.8, 429, 19); txt('59.5', 166.6, 429, 19); txt('16.7', 235, 429, 19); txt('15.3', 311, 429, 19);
txt('16.7', 90.8, 524, 19); txt('14.9', 167, 524, 19); txt('56.0', 235, 524, 19); txt('12.0', 311, 524, 19);
txt('IL-13', 38.4, 501.7, 16, { rot: 1 }); txt('IL-5', 93.5, 576, 16);
arrowRight(117.6, 280, 576); arrowUp(35, 453, 417);

// --- G ---
flowPlot({ l: 67.8, r: 205.6, t: 603.3, b: 741.7 }, G_WT_BLOBS, G_WT_GATE, null, [], G_X_POS, G_X_TEXT, G_Y_POS, LOG_TEXT);
flowPlot({ l: 211, r: 349, t: 603.3, b: 741.7 }, G_KO_BLOBS, G_KO_GATE, null, [], [], null, [], null);
txt('WT', 128.3, 621.7, 17); txt('cKO', 292.5, 621.7, 17);
txt('88.4', 173.8, 709, 19); txt('48.7', 320.4, 709, 19);
txt('KLRG1', 32, 700, 17, { rot: 1 }); txt('Areg', 84.3, 775, 17);
arrowRight(124, 287, 774); arrowUp(29.6, 648, 613);

// --- F and H ---
dotPanel({ l: 430, r: 511.8, t: 417.7, b: 538.3 }, 450.5, 491.9, F1_WT, F1_KO, F1_ERR, 100, [20, 40, 60, 80, 100], null, 17.5, 14, 8);
dotPanel({ l: 580.7, r: 667.7, t: 416.7, b: 538.3 }, 606.3, 647.3, F2_WT, F2_KO, F2_ERR, 100, [0, 20, 40, 60, 80, 100], null, 17.5, 14, 8);
dotPanel({ l: 430, r: 512.5, t: 616.7, b: 738.3 }, 451.3, 492.6, H_WT, H_KO, H_ERR, 100, [0, 20, 40, 60, 80, 100], null, 17.5, 14, 8);
txt('IL-5+ILC2 (%)', 386.6, 489, 16, { rot: 1 }); txt('IL-13+ILC2 (%)', 542, 478, 16, { rot: 1 }); txt('Areg+ILC2 (%)', 385.5, 678, 16, { rot: 1 });
txt('WT', 450.5, 559, 17); txt('cKO', 493.8, 559, 17); txt('WT', 598.6, 559, 17); txt('cKO', 646.7, 559, 17);
txt('WT', 448.6, 756.7, 17); txt('cKO', 499.5, 756.7, 17);
sig('**', 448.6, 487, 413, 466); sig('***', 603.6, 641.7, 413, 622); sig('***', 454, 487, 614, 467);

// --- I ---
barPanel({ l: 761.7, r: 876.7, t: 400.7, b: 539.3 }, IL5_VALUES, IL5_ERRORS, 40, [0, 10, 20, 30, 40]);
barPanel({ l: 906, r: 1020, t: 400.7, b: 539.3 }, IL13_VALUES, IL13_ERRORS, 8, [0, 2, 4, 6, 8]);
barPanel({ l: 774.7, r: 890.7, t: 602.3, b: 740.7 }, AREG_VALUES, AREG_ERRORS, 200, [0, 50, 100, 150, 200]);
txt('IL-5', 810.7, 385, 17); txt('IL-13', 955.7, 385, 17); txt('Amphiregulin', 824, 584, 17);
txt('pg/ml of BALF', 723, 471.7, 17, { rot: 1 }); txt('pg/ml of BALF', 728, 678, 17, { rot: 1 });
sig('***', 795.7, 840, 422.3, 819); sig('***', 941.7, 986, 426, 963); sig('***', 804, 849, 627.7, 825.7);
rect(1016.7, 393, 29.5, 14, 'background:#000'); txt('WT', 1053, 400, 17, { align: 'l' });
rect(1016.7, 419, 29.5, 15, 'box-sizing:border-box;background:#ddd;border:2px solid #111'); txt('cKO', 1053, 429, 17, { align: 'l' });
rect(918, 593, 30, 14, 'background:#000'); txt('WT', 957, 601, 17, { align: 'l' });
rect(918, 618, 30, 15, 'box-sizing:border-box;background:#ddd;border:2px solid #111'); txt('cKO', 957, 628, 17, { align: 'l' });

// --- J ---
const xy = a => a.map(([x, y]) => ({ x, y }));
place({ l: 71, r: 343, t: 840.7, b: 1125 }, { l: 50, t: 1, r: 1, b: 26 }, {
  type: 'scatter',
  data: {
    datasets: [
      { data: xy(V_BLUE), backgroundColor: '#00f', pointRadius: 5.5, pointBorderWidth: 0, order: 1 },
      { data: xy(V_BLUE_SMALL), backgroundColor: '#00f', pointRadius: 1.5, pointBorderWidth: 0, order: 1 },
      { data: xy(V_RED), backgroundColor: '#f00', pointRadius: 5.5, pointBorderWidth: 0, order: 1 },
      { data: xy(V_RED_SMALL), backgroundColor: '#f00', pointRadius: 3.5, pointBorderWidth: 0, order: 1 },
      { data: [{ x: -1, y: -6.7 }, { x: -1, y: 135.5 }], showLine: true, borderColor: '#000', borderWidth: 4.5, borderDash: [18, 5, 6, 5], pointRadius: 0, order: 2 },
      { data: [{ x: 1, y: -6.7 }, { x: 1, y: 135.5 }], showLine: true, borderColor: '#000', borderWidth: 4.5, borderDash: [18, 5, 6, 5], pointRadius: 0, order: 2 },
      { data: [{ x: -13.5, y: 1 }, { x: 12.4, y: 1 }], showLine: true, borderColor: '#000', borderWidth: 4.5, borderDash: [17, 5, 6, 5], pointRadius: 0, order: 2 },
      { data: xy(V_GRAY), backgroundColor: '#bebebe', pointRadius: 5.2, pointBorderWidth: 0, order: 3 },
      { data: xy(V_MASS_LEFT), showLine: true, fill: 'shape', backgroundColor: '#bebebe', borderColor: '#bebebe', borderWidth: 5, pointRadius: 0, tension: .2, order: 3 },
      { data: xy(V_MASS_RIGHT), showLine: true, fill: 'shape', backgroundColor: '#bebebe', borderColor: '#bebebe', borderWidth: 5, pointRadius: 0, tension: .2, order: 3 }
    ]
  },
  options: {
    scales: {
      x: {
        type: 'linear', min: -13.7, max: 12.4,
        afterBuildTicks: fixed(V_X_TICKS),
        grid: { color: '#ebebeb', lineWidth: c => (c.tick && c.tick.value % 5 === 0 ? 4 : 2), tickColor: c => (c.tick && c.tick.value % 5 === 0 ? '#333' : 'transparent'), tickWidth: c => (c.tick && c.tick.value % 5 === 0 ? 5 : 0), tickLength: 6 },
        border: { color: '#000', width: 4 },
        ticks: { font: { size: 15.5 }, color: '#4d4d4d', padding: 3, autoSkip: false, maxRotation: 0, callback: v => (v % 5 === 0 ? String(v).replace('-', '−') : '') }
      },
      y: {
        type: 'linear', min: -6.7, max: 135.5,
        afterBuildTicks: fixed(V_Y_TICKS),
        grid: { color: '#ebebeb', lineWidth: c => (c.tick && c.tick.value % 50 === 0 ? 4 : 2), tickColor: c => (c.tick && c.tick.value % 50 === 0 ? '#333' : 'transparent'), tickWidth: c => (c.tick && c.tick.value % 50 === 0 ? 5 : 0), tickLength: 6 },
        border: { color: '#000', width: 4 },
        ticks: { font: { size: 15.5 }, color: '#4d4d4d', padding: 3, autoSkip: false, callback: v => (v % 50 === 0 ? v : '') }
      }
    }
  }
});
txt('−Log<sub style="font-size:11px">10</sub> P', 13, 970, 16, { rot: 1 });
txt('Log<sub style="font-size:12px">2</sub> fold change', 210, 1168, 17, { sx: 1.25 });
txt('WT VS cKO', 214, 1192, 16, { sx: 1.27 });
[['Ly6i', 120.7, 991.7, 11], ['Il1rn', 121, 1014, 11], ['Il1b', 164, 1054, 12], ['Ifi204', 141, 1067.7, 12], ['Ifit3', 183, 1076.7, 11]]
  .forEach(([s, x, y, z]) => txt(s, x, y, z, { color: '#00f', sx: 1.1 }));
[['Il1rl1', 295, 990.7, 15], ['Bpifa1', 299.3, 1007, 11], ['Cldn5', 295, 1025, 12], ['Dpp10', 319, 1043, 12], ['Ccn1', 315, 1062, 11], ['Areg', 250.7, 1064, 16], ['Egfr', 292, 1079, 12], ['Dcn', 251.7, 1086.7, 16], ['Aspn', 316, 1093, 16]]
  .forEach(([s, x, y, z]) => txt(s, x, y, z, { color: '#f00', sx: 1.12 }));
txt('Il13', 251, 1114, 11);

// --- K, L, M ---
heatmap({ l: 447.3, r: 575, t: 862.7, b: 1186 }, K_GENES, K_VALUES, 842.7, 853.3);
txt('WT', 481, 830, 17); txt('cKO', 544, 830, 17); txt('Hallmarkers', 509.3, 1209, 17);
colorBar(581, 1066, 23, 78, 618);
heatmap({ l: 727.7, r: 857.3, t: 831.7, b: 1191 }, L_GENES, L_VALUES, 816, 826);
txt('WT', 762.3, 803, 17); txt('cKO', 825.7, 803, 17); txt('Wound Healing', 792, 1211, 17);
colorBar(866, 1067, 23, 78, 902);
heatmap({ l: 1008.3, r: 1137, t: 849.3, b: 1184 }, M_GENES, M_VALUES, 833, 843.3);
txt('WT', 1042.7, 820, 17); txt('cKO', 1105.7, 820, 17); txt('Proliferation', 1079.3, 1208, 17);
colorBar(1149, 1066, 23, 78, 1186);

// --- N ---
place({ l: 439, r: 583.3, t: 1351.7, b: 1688.3 }, { l: 8, t: 1, r: 10, b: 24 }, {
  type: 'bubble',
  data: {
    datasets: [{
      data: GO_NES.map((x, i) => ({ x, y: i + 1, r: 3.5 + GO_COUNT[i] * .05 })),
      backgroundColor: GO_PADJ.map(p => ramp(PADJ_STOPS, p)),
      borderWidth: 0, clip: false
    }]
  },
  options: {
    scales: {
      x: {
        type: 'linear', min: 1.395, max: 1.811,
        afterBuildTicks: fixed(NES_TICKS.concat(NES_MINOR)),
        grid: { color: '#ebebeb', lineWidth: c => (c.tick && NES_TICKS.includes(c.tick.value) ? 2.5 : 1), tickColor: c => (c.tick && NES_TICKS.includes(c.tick.value) ? '#333' : 'transparent'), tickLength: 3 },
        border: { display: false },
        ticks: { font: { size: 13 }, color: '#222', padding: 5, autoSkip: false, maxRotation: 0, callback: v => { const i = NES_TICKS.indexOf(v); return i < 0 ? '' : NES_LABELS[i]; } }
      },
      y: {
        type: 'linear', reverse: true, min: .423, max: 12.56,
        afterBuildTicks: fixed([1, 2, 3, 4, 5, 6, 7, 8, 9, 10, 11, 12]),
        grid: { color: '#ebebeb', lineWidth: 2.5, drawTicks: false },
        border: { display: false },
        ticks: { display: false }
      }
    },
    plugins: { frame: { color: '#333', width: 2 } }
  }
});
const GO_LABEL_Y = [1359, 1388.7, 1418, 1447.7, 1477, 1506, 1535, 1564.7, 1594, 1618.7, 1647.7, 1676.7];
GO_TERMS.forEach((s, i) => {
  txt(s, 427, GO_LABEL_Y[i], 16, { align: 'r', color: '#222' });
  rect(432, GO_LABEL_Y[i] + 3, 2, 2, 'background:#222');
});
txt('Tissue repair GO terms', 341.7, 1298, 17.5, { color: '#222' });
txt('enriched in WT ILC2 following flu inefection', 365.6, 1320, 17.5, { color: '#222' });
txt('NES', 505.7, 1731, 14, { color: '#222' });
txt('p.adjust', 595, 1423, 11.5, { align: 'l', color: '#222' });
rect(595, 1435, 17, 101, 'background:linear-gradient(#ee1c25 0%, #e91c46 30%, #c3168a 60%, #8a3e9b 78%, #3b54a4 100%)');
[['0.01', 1449], ['0.02', 1470.7], ['0.03', 1492.3], ['0.04', 1514.3]].forEach(([s, y]) => {
  txt(s, 617, y, 10, { align: 'l', color: '#222' });
  rect(595, y - .5, 3, 1, 'background:#fff');
  rect(609, y - .5, 3, 1, 'background:#fff');
});
txt('Count', 595, 1567, 14, { align: 'l', color: '#222' });
[['30', 1589, 6.5], ['60', 1610.7, 7.5], ['90', 1634, 9]].forEach(([s, y, r]) => {
  dot(605.4, y, r);
  txt(s, 620.6, y - 1, 13, { align: 'l', color: '#222' });
});

// --- O ---
gsea({ l: 812.7, r: 1131, t: 1279.3, b: 1377.3 }, { l: 812.7, r: 1131, t: 1383.3, b: 1478.7 }, O_RANK_X, O_RANK_Y, O_ES_X, O_ES_Y, O_GAPS, 4300, {
  xMin: -1600, xMax: 33960, xTicks: [0, 10000, 20000, 30000],
  rankMin: -10.6, rankMax: 9, rankTicks: [-10, -5, 0, 5],
  esMin: -.166, esMax: .406, esPeak: .38, esTicks: [0, .2, .4],
  rug: .03, rugEnd: 32400, zero: '#aaa', zeroWidth: 2.5, frame: '#ccc', tick: 7
});
txt('Angiogenesis', 961.7, 1264, 17);
txt('NES=1.4', 1000.7, 1392, 18.8, { align: 'l' });
txt('p.adjust=0.005', 1000.7, 1411, 18.8, { align: 'l' });
txt('Position in the Ranked List of Genes', 970, 1495, 15);
txt('WT', 839, 1511, 16.5); txt('cKO', 1107, 1511, 16.5);
txt('Running Enrichment Score&nbsp; Ranked list metric', 776, 1381, 10, { rot: 1 });

// --- P ---
gsea({ l: 820.7, r: 1125.7, t: 1561.7, b: 1655 }, { l: 820.7, r: 1125.7, t: 1664.3, b: 1754.3 }, P_RANK_X, P_RANK_Y, P_ES_X, P_ES_Y, P_GAPS, 6600, {
  xMin: -1580, xMax: 33920, xTicks: [0, 10000, 20000, 30000],
  rankMin: -7.17, rankMax: 6.5, rankTicks: [-4, 0, 4],
  esMin: -.122, esMax: .427, esPeak: .405, esTicks: [-.1, 0, .1, .2, .3, .4],
  rug: .024, rugEnd: 32300, zero: '#222', zeroWidth: 1, frame: '#aaa', tick: 10.5
});
txt('Epithelial cell proliferation', 978.7, 1549, 17);
txt('NES=1.56', 995, 1676.7, 18.8, { align: 'l' });
txt('p.adjust=0.005', 995, 1695, 18.8, { align: 'l' });
txt('Position in the Ranked List of Genes', 968.7, 1774, 15);
txt('WT', 838, 1790.7, 16.5); txt('cKO', 1105, 1790.7, 16.5);
txt('Ranked list metric', 775, 1595, 9.5, { rot: 1 });
txt('Running Enrichment Score', 775, 1704, 9.5, { rot: 1 });
</script>
</body>
</html>
